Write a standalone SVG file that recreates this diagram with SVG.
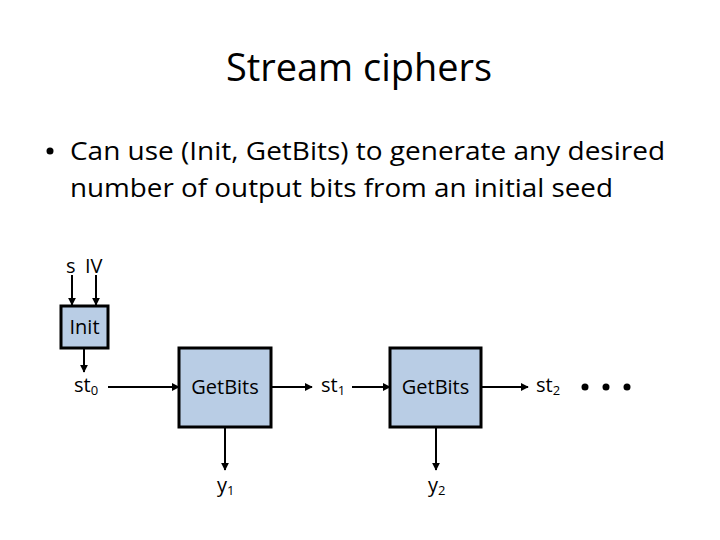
<svg xmlns="http://www.w3.org/2000/svg" width="720" height="540" viewBox="0 0 720 540">
<defs>
<style>
text{font-family:"Open Sans","Liberation Sans",sans-serif;fill:#000}
.box{fill:#b9cde5;stroke:#000;stroke-width:3}
.ln{stroke:#000;stroke-width:2;fill:none;marker-end:url(#ah)}
.lbl{font-size:20px}
.sub{font-size:13px}
</style>
<marker id="ah" viewBox="0 0 10 10" refX="9" refY="5" markerWidth="4" markerHeight="4" orient="auto" markerUnits="strokeWidth">
<path d="M0,0 L10,5 L0,10 z" fill="#000"/>
</marker>
</defs>
<rect width="720" height="540" fill="#fff"/>
<text id="title" x="359" y="81" font-size="38" text-anchor="middle" textLength="266" lengthAdjust="spacingAndGlyphs">Stream ciphers</text>
<g id="bullet">
<circle cx="50" cy="151" r="3.5" fill="#000"/>
<text x="70" y="160" font-size="26" textLength="595" lengthAdjust="spacingAndGlyphs">Can use (Init, GetBits) to generate any desired</text>
<text x="70" y="197" font-size="26" textLength="543" lengthAdjust="spacingAndGlyphs">number of output bits from an initial seed</text>
</g>
<g id="connectors">
<line class="ln" x1="72" y1="275" x2="72" y2="305"/>
<line class="ln" x1="96" y1="275" x2="96" y2="305"/>
<line class="ln" x1="84" y1="349" x2="84" y2="372"/>
<line class="ln" x1="108" y1="387" x2="179" y2="387"/>
<line class="ln" x1="271" y1="387" x2="312" y2="387"/>
<line class="ln" x1="352" y1="387" x2="390" y2="387"/>
<line class="ln" x1="482" y1="387" x2="528" y2="387"/>
<line class="ln" x1="225" y1="428" x2="225" y2="470"/>
<line class="ln" x1="436" y1="428" x2="436" y2="470"/>
</g>
<g id="inputs">
<text class="lbl" x="66" y="273">s</text>
<text class="lbl" x="85" y="273">IV</text>
</g>
<g id="init">
<rect class="box" x="61" y="306" width="47" height="42"/>
<text class="lbl" x="84.5" y="334" text-anchor="middle">Init</text>
</g>
<g id="st0">
<text class="lbl" x="74" y="392">st<tspan class="sub" dy="3">0</tspan></text>
</g>
<g id="getbits1">
<rect class="box" x="179" y="348" width="92" height="79"/>
<text class="lbl" x="225" y="394" text-anchor="middle">GetBits</text>
</g>
<g id="st1">
<text class="lbl" x="321" y="392">st<tspan class="sub" dy="3">1</tspan></text>
</g>
<g id="getbits2">
<rect class="box" x="390" y="348" width="91" height="79"/>
<text class="lbl" x="435.5" y="394" text-anchor="middle">GetBits</text>
</g>
<g id="st2">
<text class="lbl" x="536" y="392">st<tspan class="sub" dy="3">2</tspan></text>
</g>
<g id="dots">
<circle cx="585" cy="387" r="3.5" fill="#000"/>
<circle cx="606" cy="387" r="3.5" fill="#000"/>
<circle cx="627" cy="387" r="3.5" fill="#000"/>
</g>
<g id="y1">
<text class="lbl" x="217" y="492">y<tspan class="sub" dy="3">1</tspan></text>
</g>
<g id="y2">
<text class="lbl" x="428" y="492">y<tspan class="sub" dy="3">2</tspan></text>
</g>
</svg>
